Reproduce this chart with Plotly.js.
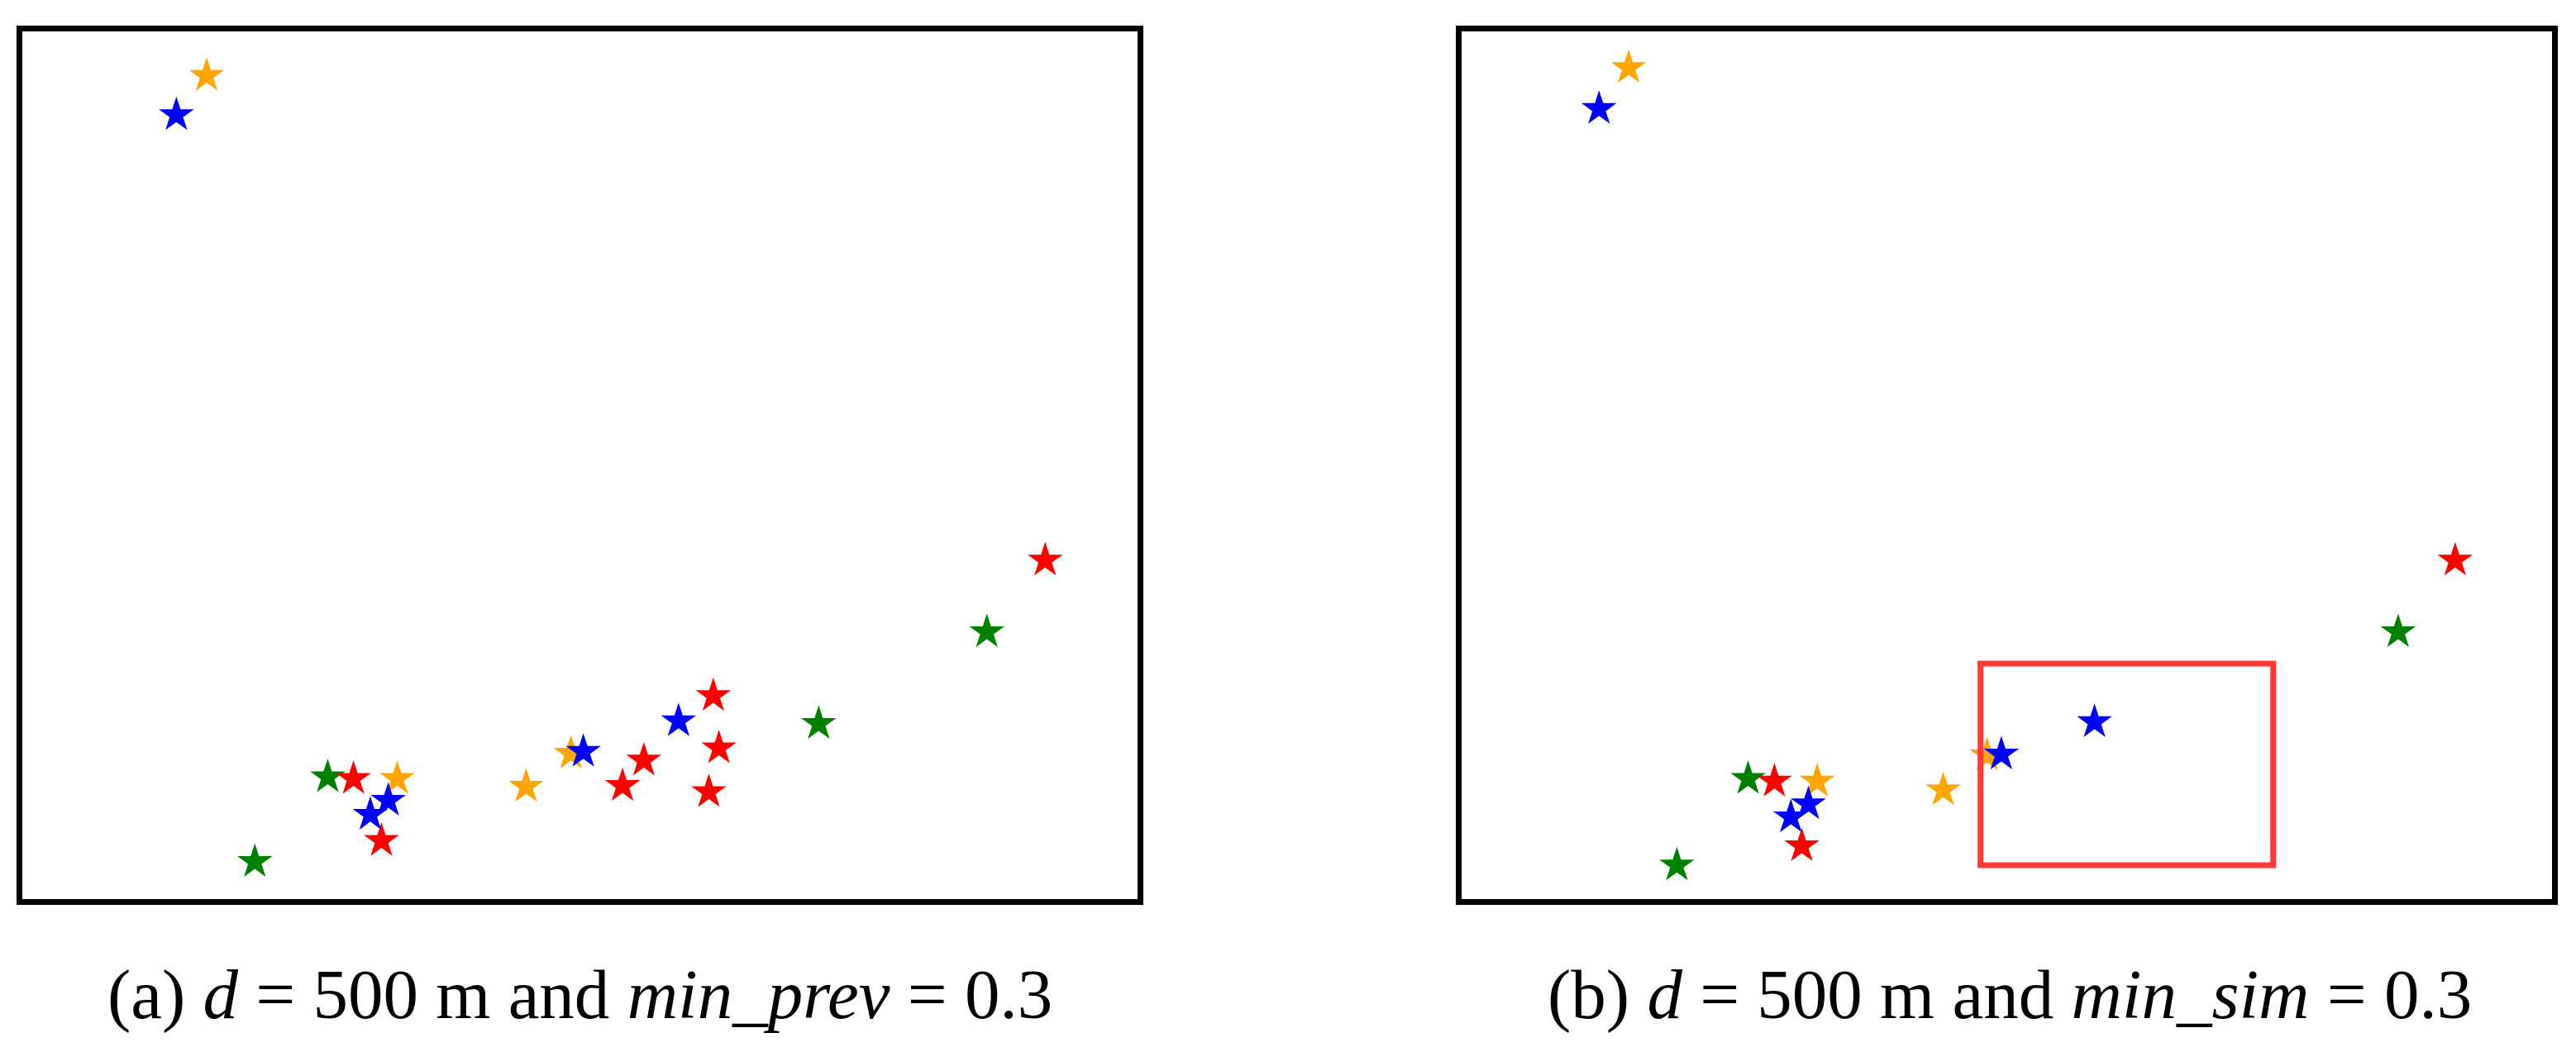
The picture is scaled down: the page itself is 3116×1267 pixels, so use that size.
<!DOCTYPE html>
<html>
<head>
<meta charset="utf-8">
<script src="https://cdn.plot.ly/plotly-3.0.1.min.js"></script>
<style>
  html, body { margin: 0; padding: 0; background: #fff; }
  #chart { width: 3116px; height: 1267px; }
</style>
</head>
<body>
<div id="chart"></div>
<script>
// Panel (a): d = 500 m, min_prev = 0.3  (positions in % of the box)
let aOrangeX = [16.7, 45.2, 49.2, 33.7];
let aOrangeY = [94.6, 13.2, 17.0, 14.1];
let aGreenX = [86.3, 71.3, 27.5, 21.0];
let aGreenY = [30.9, 20.4, 14.3, 4.6];
let aRedX = [91.5, 61.9, 62.4, 55.7, 53.8, 61.5, 29.8, 32.3];
let aRedY = [39.1, 23.6, 17.6, 16.2, 13.3, 12.6, 14.1, 7.0];
let aBlueX = [14.0, 58.8, 50.3, 32.9, 31.3];
let aBlueY = [90.1, 20.7, 17.2, 11.6, 10.0];

// Panel (b): d = 500 m, min_sim = 0.3
let bOrangeX = [15.5, 48.2, 44.2, 32.7];
let bOrangeY = [95.5, 16.8, 12.8, 13.8];
let bGreenX = [85.7, 26.4, 19.9];
let bGreenY = [30.9, 14.1, 4.2];
let bRedX = [90.9, 28.8, 31.3];
let bRedY = [39.1, 13.8, 6.4];
let bBlueX = [12.8, 58.0, 49.5, 31.9, 30.3];
let bBlueY = [90.8, 20.6, 16.9, 11.2, 9.7];

// highlighted region in panel (b): [x0, x1, y0, y1]
let boxB = [47.6, 74.3, 4.2, 27.3];

let captions = [
    "(a) <i>d</i> = 500 m and <i>min_prev</i> = 0.3",
    "(b) <i>d</i> = 500 m and <i>min_sim</i> = 0.3"
];

const W = 3116, H = 1267;
const colors = { orange: "#FFA500", green: "#008000", red: "#FF0000", blue: "#0000FF" };

function stars(x, y, color, xa, ya) {
    return {
        x: x, y: y,
        xaxis: xa, yaxis: ya,
        type: "scatter",
        mode: "markers",
        marker: { symbol: "star", size: 32, color: color, line: { width: 0 } },
        hoverinfo: "skip",
        showlegend: false
    };
}

let data = [
    stars(aOrangeX, aOrangeY, colors.orange, "x", "y"),
    stars(aGreenX, aGreenY, colors.green, "x", "y"),
    stars(aRedX, aRedY, colors.red, "x", "y"),
    stars(aBlueX, aBlueY, colors.blue, "x", "y"),
    stars(bOrangeX, bOrangeY, colors.orange, "x2", "y2"),
    stars(bGreenX, bGreenY, colors.green, "x2", "y2"),
    stars(bRedX, bRedY, colors.red, "x2", "y2"),
    stars(bBlueX, bBlueY, colors.blue, "x2", "y2")
];

function hiddenAxis(domain, anchor) {
    return {
        domain: domain,
        anchor: anchor,
        range: [0, 100],
        showgrid: false,
        zeroline: false,
        showticklabels: false,
        ticks: "",
        showline: false,
        fixedrange: true
    };
}

let yDomain = [1 - 1091.5 / H, 1 - 34.5 / H];

let layout = {
    width: W,
    height: H,
    margin: { l: 0, r: 0, t: 0, b: 0 },
    paper_bgcolor: "#fff",
    plot_bgcolor: "#fff",
    showlegend: false,
    xaxis: hiddenAxis([23.5 / W, 1379.5 / W], "y"),
    yaxis: hiddenAxis(yDomain, "x"),
    xaxis2: hiddenAxis([1764.5 / W, 3090.5 / W], "y2"),
    yaxis2: hiddenAxis(yDomain, "x2"),
    shapes: [
        { type: "rect", xref: "x domain", yref: "y domain", x0: 0, x1: 1, y0: 0, y1: 1,
          line: { color: "#000", width: 7 }, layer: "above" },
        { type: "rect", xref: "x2 domain", yref: "y2 domain", x0: 0, x1: 1, y0: 0, y1: 1,
          line: { color: "#000", width: 7 }, layer: "above" },
        { type: "rect", xref: "x2", yref: "y2", x0: boxB[0], x1: boxB[1], y0: boxB[2], y1: boxB[3],
          line: { color: "#FF3838", width: 7 }, layer: "above" }
    ],
    annotations: [
        { text: captions[0], xref: "paper", yref: "paper", x: 701.7 / W, y: 1 - 1203 / H,
          xanchor: "center", yanchor: "middle", showarrow: false,
          font: { family: "Liberation Serif, Times New Roman, serif", size: 85, color: "#000" } },
        { text: captions[1], xref: "paper", yref: "paper", x: 2430.8 / W, y: 1 - 1203 / H,
          xanchor: "center", yanchor: "middle", showarrow: false,
          font: { family: "Liberation Serif, Times New Roman, serif", size: 85, color: "#000" } }
    ]
};

Plotly.newPlot("chart", data, layout, { staticPlot: true, displayModeBar: false });
</script>
</body>
</html>
